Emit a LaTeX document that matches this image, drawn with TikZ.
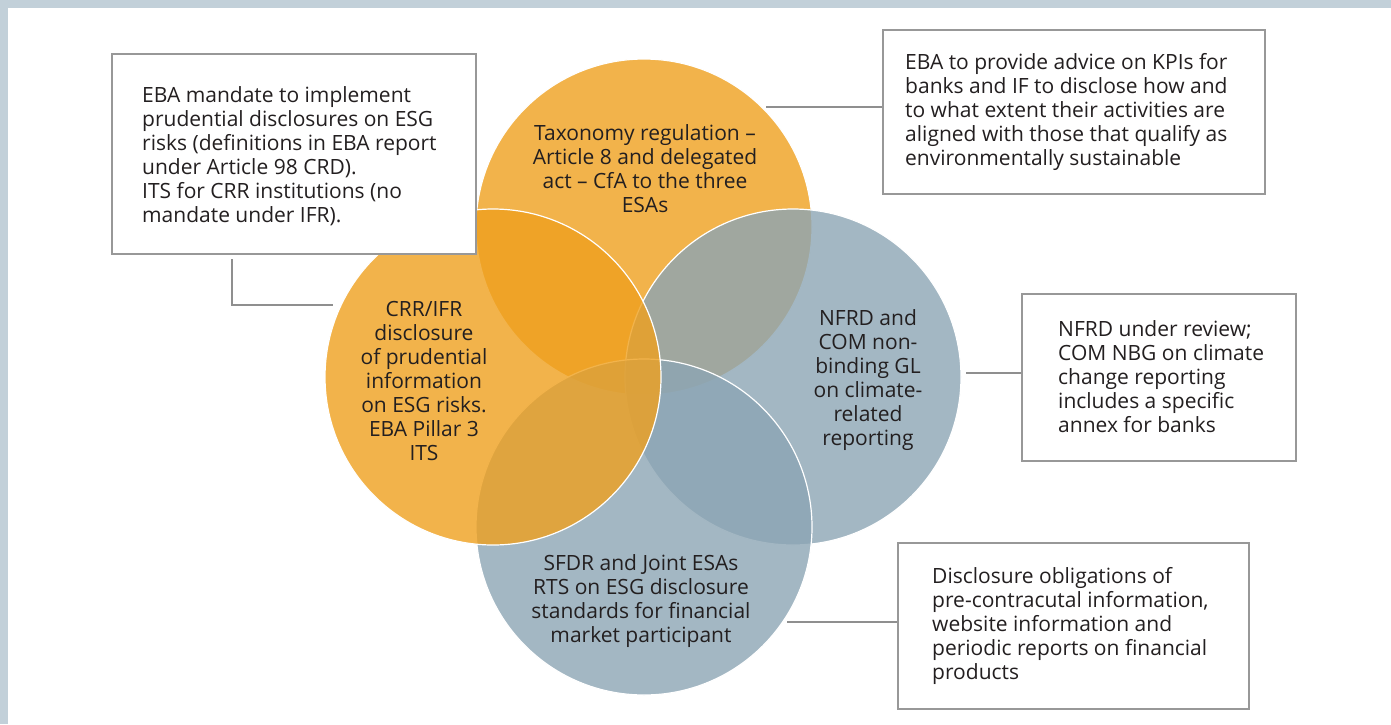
\documentclass[tikz,border=0pt]{standalone}
\usepackage{fontspec}
\setmainfont{Open Sans}
\definecolor{framec}{RGB}{194,208,217}
\definecolor{orng}{RGB}{239,160,30}
\definecolor{blu}{RGB}{140,165,180}
\definecolor{boxline}{RGB}{152,152,152}
\definecolor{connc}{RGB}{143,143,143}
\definecolor{txt}{RGB}{35,31,32}
\begin{document}
\begin{tikzpicture}[x=1pt,y=-1pt,
  venn/.style={circle, minimum size=336pt, inner sep=0pt, fill opacity=0.8, draw=white, line width=1.2pt},
  orangevenn/.style={venn, fill=orng},
  bluevenn/.style={venn, fill=blu},
  infobox/.style={rectangle, draw=boxline, line width=1.5pt, fill=white, inner sep=0pt},
  vtext/.style={align=center, inner sep=0pt, text=txt, font=\fontsize{21}{24}\selectfont},
  btext/.style={align=left, anchor=west, inner sep=0pt, text=txt, font=\fontsize{21}{24}\selectfont},
  conn/.style={draw=connc, line width=1.5pt}]
\useasboundingbox (0,0) rectangle (1391,724);
\fill[framec] (0,0) rectangle (1391,724);
\fill[white] (8,8) rectangle (1391,724);

% circles (drawing order matters)
\node[orangevenn] (taxc) at (644,227) {};
\node[bluevenn] (nfrdc) at (793,377) {};
\node[bluevenn] (sfdrc) at (644,527) {};
\node[orangevenn] (crrc) at (493,377) {};

% circle labels
\node[vtext] (taxt) at (645,169) {Taxonomy regulation --\\Article 8 and delegated\\act -- CfA to the three\\ESAs};
\node[vtext] (crrt) at (424,381) {CRR/IFR\\disclosure\\of prudential\\information\\on ESG risks.\\EBA Pillar 3\\ITS};
\node[vtext] (nfrdt) at (868,380) {NFRD and\\COM non-\\binding GL\\on climate-\\related\\reporting};
\node[vtext] (sfdrt) at (641,601) {SFDR and Joint ESAs\\RTS on ESG disclosure\\standards for financial\\market participant};

% boxes
\node[infobox, minimum width=364pt, minimum height=200pt] (ebabox) at (294,154) {};
\node[infobox, minimum width=382pt, minimum height=164pt] (kpibox) at (1074,112) {};
\node[infobox, minimum width=274pt, minimum height=167pt] (nfrdbox) at (1159,377.5) {};
\node[infobox, minimum width=351pt, minimum height=166pt] (sfdrbox) at (1073.5,626) {};

\node[btext] (ebat) at (142,156) {EBA mandate to implement\\prudential disclosures on ESG\\risks (definitions in EBA report\\under Article 98 CRD).\\ITS for CRR institutions (no\\mandate under IFR).};
\node[btext] (kpit) at (905,112) {EBA to provide advice on KPIs for\\banks and IF to disclose how and\\to what extent their activities are\\aligned with those that qualify as\\environmentally sustainable};
\node[btext] (nfrdbt) at (1058,377) {NFRD under review;\\COM NBG on climate\\change reporting\\includes a specific\\annex for banks};
\node[btext] (sfdrbt) at (932,626) {Disclosure obligations of\\pre-contracutal information,\\website information and\\periodic reports on financial\\products};

% connectors
\coordinate (l1) at (232,259);
\coordinate (l2) at (333,305);
\coordinate (t1) at (766,107);
\coordinate (m1) at (966,373);
\coordinate (b1) at (787,622);
\draw[conn] (l1) |- (l2);
\draw[conn] (t1) -- (kpibox.west |- t1);
\draw[conn] (m1) -- (nfrdbox.west |- m1);
\draw[conn] (b1) -- (sfdrbox.west |- b1);
\end{tikzpicture}
\end{document}
